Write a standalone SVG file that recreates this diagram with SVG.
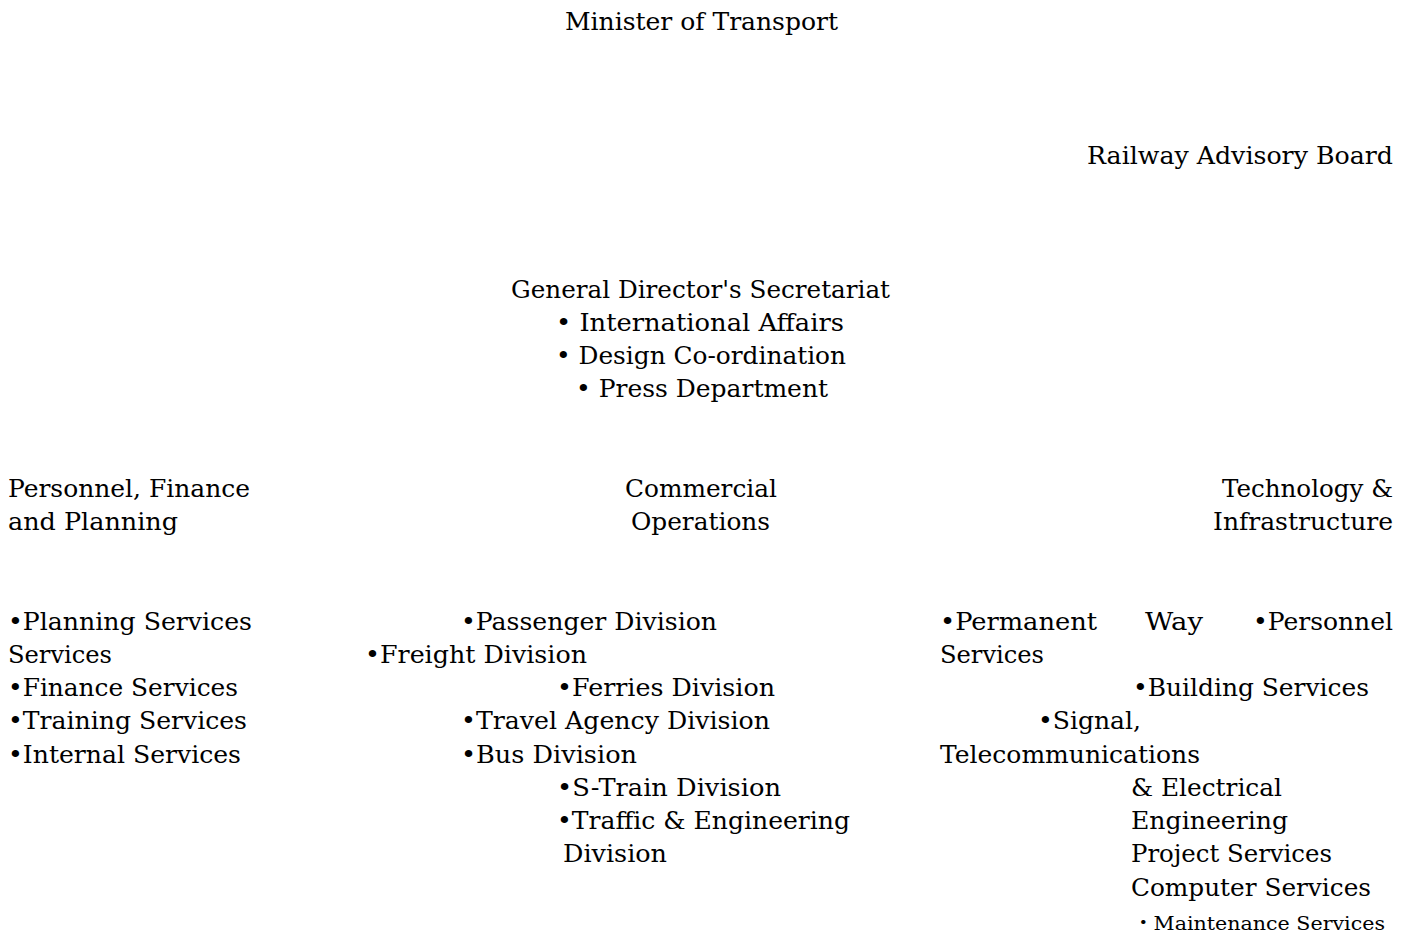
<svg xmlns="http://www.w3.org/2000/svg" width="1413" height="938" viewBox="0 0 1413 938">
<style>
text{font-family:"DejaVu Serif","Liberation Serif","Noto Sans CJK JP",serif;font-size:24px;fill:#000}
.s{font-size:19px}
</style>
<rect width="1413" height="938" fill="#fff"/>
<g id="connectors"/>
<g id="minister"><text x="565" y="30" textLength="273" lengthAdjust="spacingAndGlyphs">Minister of Transport</text></g>
<g id="advisory"><text x="1087" y="164" textLength="306" lengthAdjust="spacingAndGlyphs">Railway Advisory Board</text></g>
<g id="secretariat">
<text x="511" y="298" textLength="379" lengthAdjust="spacingAndGlyphs">General Director's Secretariat</text>
<text x="556" y="331" textLength="288" lengthAdjust="spacingAndGlyphs">• International Affairs</text>
<text x="556" y="364" textLength="290" lengthAdjust="spacingAndGlyphs">• Design Co-ordination</text>
<text x="576" y="397" textLength="252" lengthAdjust="spacingAndGlyphs">• Press Department</text>
</g>
<g id="personnel">
<text x="8" y="497" textLength="242" lengthAdjust="spacingAndGlyphs">Personnel, Finance</text>
<text x="8" y="530" textLength="170" lengthAdjust="spacingAndGlyphs">and Planning</text>
<text x="8" y="630" textLength="244" lengthAdjust="spacingAndGlyphs">•Planning Services</text>
<text x="8" y="663" textLength="104" lengthAdjust="spacingAndGlyphs">Services</text>
<text x="8" y="696" textLength="230" lengthAdjust="spacingAndGlyphs">•Finance Services</text>
<text x="8" y="729" textLength="239" lengthAdjust="spacingAndGlyphs">•Training Services</text>
<text x="8" y="763" textLength="233" lengthAdjust="spacingAndGlyphs">•Internal Services</text>
</g>
<g id="commercial">
<text x="625" y="497" textLength="152" lengthAdjust="spacingAndGlyphs">Commercial</text>
<text x="631" y="530" textLength="139" lengthAdjust="spacingAndGlyphs">Operations</text>
<text x="461" y="630" textLength="256" lengthAdjust="spacingAndGlyphs">•Passenger Division</text>
<text x="365" y="663" textLength="222" lengthAdjust="spacingAndGlyphs">•Freight Division</text>
<text x="557" y="696" textLength="218" lengthAdjust="spacingAndGlyphs">•Ferries Division</text>
<text x="461" y="729" textLength="309" lengthAdjust="spacingAndGlyphs">•Travel Agency Division</text>
<text x="461" y="763" textLength="176" lengthAdjust="spacingAndGlyphs">•Bus Division</text>
<text x="557" y="796" textLength="224" lengthAdjust="spacingAndGlyphs">•S-Train Division</text>
<text x="557" y="829" textLength="293" lengthAdjust="spacingAndGlyphs">•Traffic &amp; Engineering</text>
<text x="563" y="862" textLength="104" lengthAdjust="spacingAndGlyphs">Division</text>
</g>
<g id="technology">
<text x="1222" y="497" textLength="171" lengthAdjust="spacingAndGlyphs">Technology &amp;</text>
<text x="1213" y="530" textLength="180" lengthAdjust="spacingAndGlyphs">Infrastructure</text>
<text x="940" y="630" textLength="157" lengthAdjust="spacingAndGlyphs">•Permanent</text>
<text x="1145" y="630" textLength="58" lengthAdjust="spacingAndGlyphs">Way</text>
<text x="1253" y="630" textLength="140" lengthAdjust="spacingAndGlyphs">•Personnel</text>
<text x="940" y="663" textLength="104" lengthAdjust="spacingAndGlyphs">Services</text>
<text x="1133" y="696" textLength="236" lengthAdjust="spacingAndGlyphs">•Building Services</text>
<text x="1038" y="729" textLength="103" lengthAdjust="spacingAndGlyphs">•Signal,</text>
<text x="940" y="763" textLength="260" lengthAdjust="spacingAndGlyphs">Telecommunications</text>
<text x="1131" y="796" textLength="151" lengthAdjust="spacingAndGlyphs">&amp; Electrical</text>
<text x="1131" y="829" textLength="157" lengthAdjust="spacingAndGlyphs">Engineering</text>
<text x="1131" y="862" textLength="201" lengthAdjust="spacingAndGlyphs">Project Services</text>
<text x="1131" y="896" textLength="240" lengthAdjust="spacingAndGlyphs">Computer Services</text>
<text class="s" x="1133" y="930" textLength="252" lengthAdjust="spacingAndGlyphs">・Maintenance Services</text>
</g>
</svg>
